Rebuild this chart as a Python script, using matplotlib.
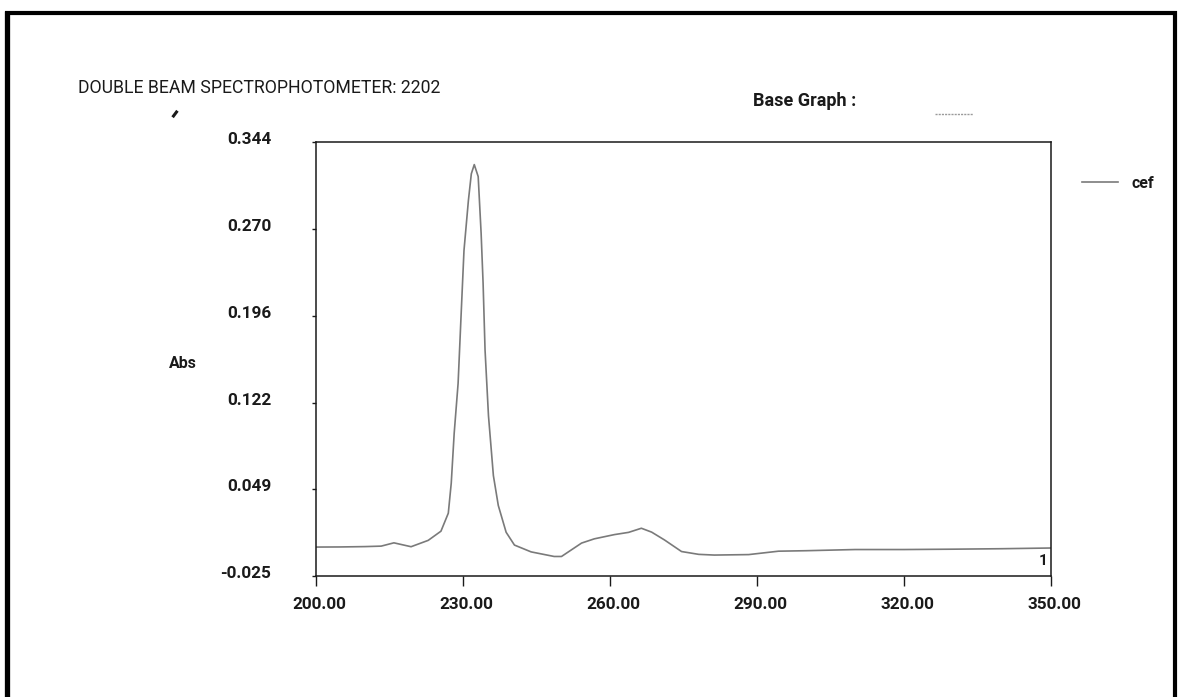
import matplotlib
matplotlib.use('Agg')
import matplotlib.pyplot as plt
from matplotlib.lines import Line2D
import matplotlib.transforms as mtrans

# ---------------- data ----------------
wavelength = [200.0, 205.0, 210.0, 213.3, 215.9, 219.4, 222.9, 225.5, 227.0, 227.6,
              228.2, 229.0, 229.6, 230.2, 231.1, 231.7, 232.3, 233.1, 233.7, 234.1,
              234.5, 235.2, 236.2, 237.2, 238.8, 240.5, 243.9, 248.6, 250.1, 254.2,
              256.8, 260.9, 263.8, 266.4, 268.5, 271.1, 274.6, 278.1, 281.3, 288.3,
              294.4, 300.0, 310.0, 320.0, 330.0, 340.0, 350.0]
absorbance = [-0.0004, -0.0003, 0.0000, 0.0004, 0.0032, -0.0001, 0.0053, 0.0131, 0.0284, 0.0539,
              0.0963, 0.1388, 0.1957, 0.2517, 0.2942, 0.3170, 0.3248, 0.3146, 0.2663, 0.2240,
              0.1671, 0.1112, 0.0604, 0.0350, 0.0122, 0.0013, -0.0045, -0.0084, -0.0084, 0.0030,
              0.0066, 0.0102, 0.0121, 0.0156, 0.0123, 0.0057, -0.0042, -0.0066, -0.0072, -0.0068,
              -0.0039, -0.0035, -0.0025, -0.0025, -0.0022, -0.0018, -0.0012]
x_ticks = [200, 230, 260, 290, 320, 350]
x_tick_labels = ['200.00', '230.00', '260.00', '290.00', '320.00', '350.00']
y_ticks = [-0.025, 0.049, 0.122, 0.196, 0.270, 0.344]
y_tick_labels = ['-0.025', '0.049', '0.122', '0.196', '0.270', '0.344']
series_name = 'cef'
title_text = 'DOUBLE BEAM SPECTROPHOTOMETER: 2202'
base_graph_text = 'Base Graph :'
y_label = 'Abs'
curve_number = '1'

FONT = ['Roboto', 'DejaVu Sans']
plt.rcParams['font.family'] = FONT

W, H = 1179, 697
fig = plt.figure(figsize=(W / 100, H / 100), dpi=100)
fig.patch.set_facecolor('white')


def fx(x):
    return x / W


def fy(y):
    return 1 - y / H


# plot area
left, right, top, bottom = 316, 1051, 142, 576
ax = fig.add_axes([fx(left), fy(bottom), (right - left) / W, (bottom - top) / H])
ax.plot(wavelength, absorbance, color='#7a7a7a', lw=1.2)
ax.set_xlim(200, 350)
ax.set_ylim(-0.025, 0.344)

ax.set_xticks(x_ticks)
ax.set_xticklabels(x_tick_labels)
ax.set_yticks(y_ticks)
ax.set_yticklabels(y_tick_labels)
ax.tick_params(axis='x', direction='out', length=7.2, width=1.0, pad=8,
               labelsize=12.3, colors='#1a1a1a')
ax.tick_params(axis='y', direction='out', length=2.9, width=1.0, pad=29.5,
               labelsize=12.3, colors='#1a1a1a')
for lab in ax.get_xticklabels() + ax.get_yticklabels():
    lab.set_fontweight('bold')
xoff = mtrans.ScaledTranslation(2.5 / 72, 0, fig.dpi_scale_trans)
yoff = mtrans.ScaledTranslation(0, 3 / 72, fig.dpi_scale_trans)
for lab in ax.get_xticklabels():
    lab.set_transform(lab.get_transform() + xoff)
for lab in ax.get_yticklabels():
    lab.set_transform(lab.get_transform() + yoff)

for s in ax.spines.values():
    s.set_linewidth(1.1)
    s.set_color('#1a1a1a')

# curve number label near right end
ax.text(348.3, -0.0124, curve_number, ha='center', va='center', fontsize=11,
        fontweight='bold', color='#1a1a1a')

# texts
fig.text(fx(78), fy(88), title_text, ha='left', va='center', fontsize=12.7,
         color='#1a1a1a')
fig.text(fx(753), fy(101), base_graph_text, ha='left', va='center', fontsize=13,
         fontweight='bold', color='#1a1a1a')
fig.add_artist(Line2D([fx(935), fx(973)], [fy(114), fy(114)], color='#9a9a9a',
                      lw=1.0, ls=(0, (1.5, 0.8))))
fig.text(fx(183), fy(364), y_label, ha='center', va='center', fontsize=11.5,
         fontweight='bold', color='#1a1a1a')

# legend entry
fig.add_artist(Line2D([fx(1082), fx(1118)], [fy(182), fy(182)], color='#7a7a7a', lw=1.2))
fig.text(fx(1132), fy(183), series_name, ha='left', va='center', fontsize=11.5,
         fontweight='bold', color='#1a1a1a')

# small speck mark
fig.add_artist(Line2D([fx(173.5), fx(176.5)], [fy(116), fy(112)], color='#1a1a1a', lw=2.2))

# outer page border
fig.add_artist(Line2D([fx(7.5), fx(7.5)], [fy(11), fy(H + 5)], color='black', lw=3.8,
                      solid_capstyle='butt'))
fig.add_artist(Line2D([fx(5), fx(1177)], [fy(13), fy(13)], color='black', lw=3.0,
                      solid_capstyle='butt'))
fig.add_artist(Line2D([fx(1174.5), fx(1174.5)], [fy(11), fy(H + 5)], color='black', lw=3.0,
                      solid_capstyle='butt'))

fig.savefig('out.png', dpi=100, facecolor='white')
